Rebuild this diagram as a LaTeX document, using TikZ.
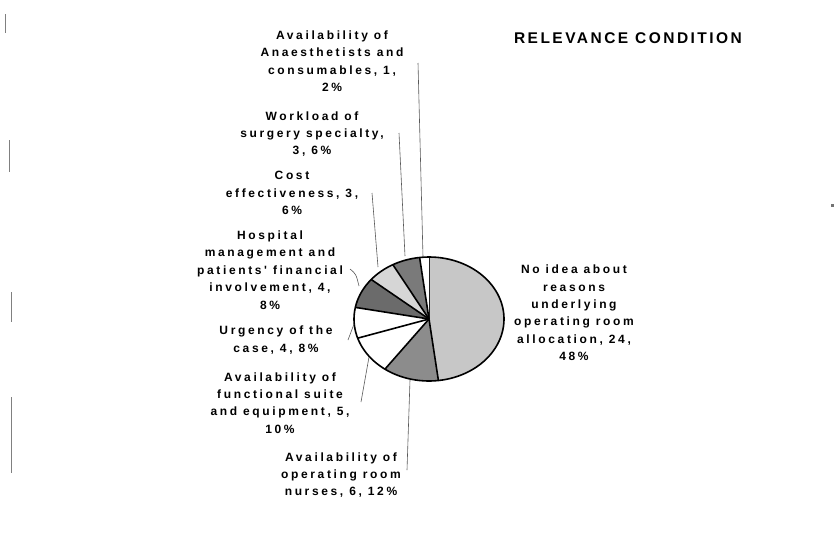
\documentclass[tikz,border=0pt]{standalone}
\usepackage{fontspec}
\newfontfamily\lblfont[LetterSpace=22,UprightFont=* Bold,BoldFont=* Bold]{Liberation Sans}
\newfontfamily\ttlfont[LetterSpace=16,UprightFont=* Bold,BoldFont=* Bold]{Liberation Sans}
\begin{document}
\begin{tikzpicture}[x=1pt,y=-1pt,
  lbl/.style={align=center,inner sep=0pt,font=\lblfont\fontsize{12}{17.4}\selectfont},
  leader/.style={draw=black!65,line width=0.6pt},
  scan/.style={draw=black!50,line width=1pt},
  pieedge/.style={draw=black,line width=1.6pt,line join=round}]
\useasboundingbox (0,0) rectangle (837,541);
\fill[white] (0,0) rectangle (837,541);
% pie geometry
\def\cx{429}\def\cy{319}\def\rx{75}\def\ry{62}
\newcommand{\pieslice}[3]{%
  \fill[#3] (\cx,\cy) -- plot[domain=#1:#2,samples=40] ({\cx+\rx*sin(\x)},{\cy-\ry*cos(\x)}) -- cycle;
  \draw[pieedge] (\cx,\cy) -- ({\cx+\rx*sin(#1)},{\cy-\ry*cos(#1)});}
\pieslice{0}{172.8}{black!22}
\pieslice{172.8}{216}{black!45}
\pieslice{216}{252}{white}
\pieslice{252}{280.8}{white}
\pieslice{280.8}{309.6}{black!58}
\pieslice{309.6}{331.2}{black!16}
\pieslice{331.2}{352.8}{black!52}
\pieslice{352.8}{360}{white}
\draw[pieedge] plot[domain=0:360,samples=120] ({\cx+\rx*sin(\x)},{\cy-\ry*cos(\x)}) -- cycle;
\coordinate (c) at (\cx,\cy);
% title
\node[inner sep=0pt,font=\ttlfont\fontsize{15.5}{18}\selectfont] (title) at (628,38) {RELEVANCE CONDITION};
% labels
\node[lbl] (lA) at (332,61) {Availability of\\Anaesthetists and\\consumables, 1,\\2\%};
\node[lbl] (lW) at (312,134) {Workload of\\surgery specialty,\\3, 6\%};
\node[lbl] (lC) at (292,193) {Cost\\effectiveness, 3,\\6\%};
\node[lbl] (lH) at (270,270) {Hospital\\management and\\patients' financial\\involvement, 4,\\8\%};
\node[lbl] (lU) at (276,340) {Urgency of the\\case, 4, 8\%};
\node[lbl] (lF) at (280,403) {Availability of\\functional suite\\and equipment, 5,\\10\%};
\node[lbl] (lN) at (341,475) {Availability of\\operating room\\nurses, 6, 12\%};
\node[lbl] (lI) at (574,313) {No idea about\\reasons\\underlying\\operating room\\allocation, 24,\\48\%};
% leader coordinates
\coordinate (sA) at (418,63);  \coordinate (eA) at (423,257);
\coordinate (sW) at (399,133); \coordinate (eW) at (405,256);
\coordinate (sC) at (372,193); \coordinate (eC) at (378,267);
\coordinate (sH) at (350,269); \coordinate (eH) at (359,286);
\coordinate (sU) at (348,340); \coordinate (eU) at (354,324);
\coordinate (sF) at (361,402); \coordinate (eF) at (369,357);
\coordinate (sN) at (407,470); \coordinate (eN) at (410,380);
\draw[leader] (sA) -- (eA);
\draw[leader] (sW) -- (eW);
\draw[leader] (sC) -- (eC);
\draw[leader] (sH) .. controls (356,274) .. (eH);
\draw[leader] (sU) -- (eU);
\draw[leader] (sF) -- (eF);
\draw[leader] (sN) -- (eN);
% scan marks
\draw[scan] (5,14) -- (5,33);
\draw[scan] (9,140) -- (9,172);
\draw[scan] (11,292) -- (11,322);
\draw[scan] (11,397) -- (11,473);
\fill[black!55] (831,204) rectangle (833.5,207);
\end{tikzpicture}
\end{document}
